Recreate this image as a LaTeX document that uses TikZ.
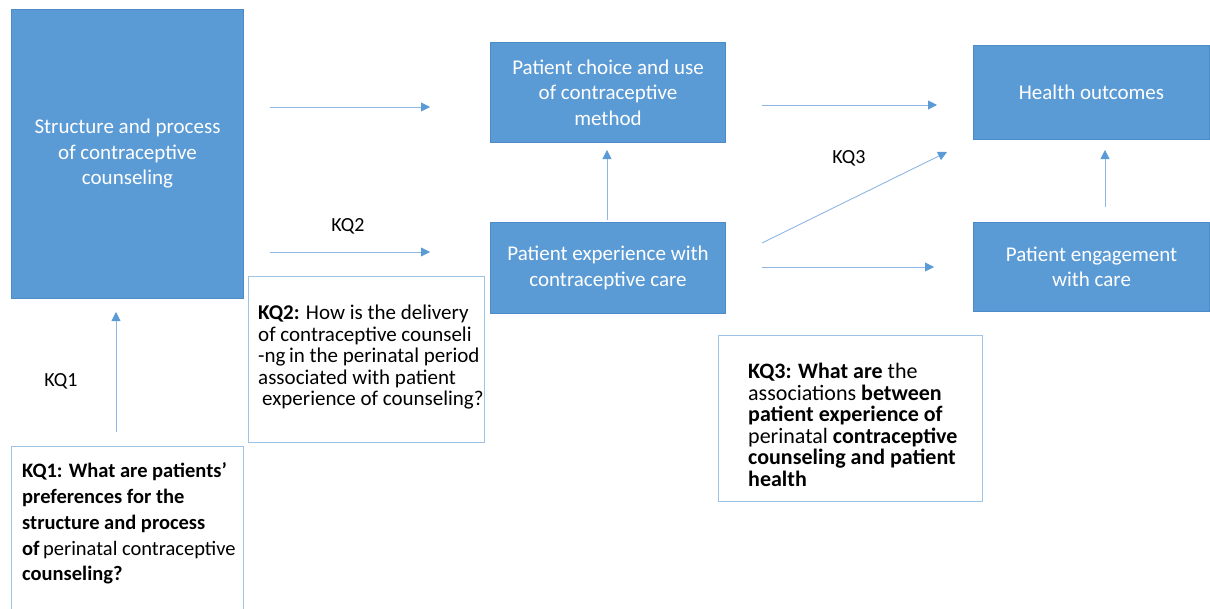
\documentclass[tikz,border=0pt]{standalone}
\usepackage{fontspec}
\setmainfont{Carlito}
\usetikzlibrary{arrows.meta}
\definecolor{boxblue}{HTML}{5B9BD5}
\definecolor{boxedge}{HTML}{4C8BC8}
\definecolor{arrowblue}{HTML}{8DB6E4}
\definecolor{qedge}{HTML}{9DC3E6}
\begin{document}
\begin{tikzpicture}[x=1pt,y=-1pt,
 bluebox/.style={draw=boxedge,fill=boxblue,line width=1pt,text=white,align=center,
   font=\fontsize{21}{25.5}\selectfont,anchor=north west,inner sep=0pt},
 qbox/.style={draw=qedge,line width=1.3pt,anchor=north west,inner sep=0pt},
 qtext/.style={anchor=north west,align=left,inner sep=0pt,font=\fontsize{21}{21.5}\selectfont},
 conn/.style={draw=arrowblue,line width=0.9pt,-{Triangle[length=9pt,width=9pt,color=boxblue]}},
 lbl/.style={font=\fontsize{20}{22}\selectfont,inner sep=0pt}]
\useasboundingbox (0,0) rectangle (1210,608);
\clip (0,0) rectangle (1210,608);
% blue boxes
\node[bluebox,minimum width=232pt,minimum height=289pt] (struct) at (11,9)
  {Structure and process\\of contraceptive\\counseling};
\node[bluebox,minimum width=235pt,minimum height=100pt] (choice) at (490,42)
  {Patient choice and use\\of contraceptive\\method};
\node[bluebox,minimum width=236pt,minimum height=94pt] (health) at (973,45)
  {Health outcomes};
\node[bluebox,minimum width=235pt,minimum height=91pt] (exper) at (490,222)
  {Patient experience with\\contraceptive care};
\node[bluebox,minimum width=236pt,minimum height=89pt] (engage) at (973,222)
  {Patient engagement\\with care};
% question boxes
\node[qbox,minimum width=232pt,minimum height=170pt] (q1box) at (11,446) {};
\node[qtext,font=\fontsize{20.5}{25.8}\selectfont] (q1text) at (22,462.5)
  {\textbf{KQ1: What are patients’}\\
   \textbf{preferences for the}\\
   \textbf{structure and process}\\
   \textbf{of}\,perinatal contraceptive\\
   \textbf{counseling?}};
\node[qbox,minimum width=236pt,minimum height=166pt] (q2box) at (248,276) {};
\node[qtext] (q2text) at (258,305)
  {\textbf{KQ2:} How is the delivery\\
   of contraceptive counseli\\
   -ng\,in the perinatal period\\
   associated with patient\\
   \hspace{4pt}experience of counseling?};
\node[qbox,minimum width=264pt,minimum height=166pt] (q3box) at (718,335) {};
\node[qtext,font=\fontsize{22}{21.5}\selectfont] (q3text) at (748,363)
  {\textbf{KQ3: What are} the\\
   associations \textbf{between}\\
   \textbf{patient experience of}\\
   perinatal \textbf{contraceptive}\\
   \textbf{counseling and patient}\\
   \textbf{health}};
% connector end points
\coordinate (a1s) at (270,107); \coordinate (a1e) at (430,107);
\coordinate (a2s) at (270,252); \coordinate (a2e) at (430,252);
\coordinate (a3s) at (607,220); \coordinate (a3e) at (607,150);
\coordinate (a4s) at (762,105); \coordinate (a4e) at (937,105);
\coordinate (a5s) at (762,267); \coordinate (a5e) at (934,267);
\coordinate (a6s) at (762,243); \coordinate (a6e) at (947,152);
\coordinate (a7s) at (1105,207); \coordinate (a7e) at (1105,150);
\coordinate (a8s) at (116,432); \coordinate (a8e) at (116,312);
\draw[conn] (a1s) -- (a1e);
\draw[conn] (a2s) -- (a2e);
\draw[conn] (a3s) -- (a3e);
\draw[conn] (a4s) -- (a4e);
\draw[conn] (a5s) -- (a5e);
\draw[conn] (a6s) -- (a6e);
\draw[conn] (a7s) -- (a7e);
\draw[conn] (a8s) -- (a8e);
% labels
\node[lbl] (l2) at (348,226) {KQ2};
\node[lbl] (l3) at (849,158) {KQ3};
\node[lbl] (l1) at (61,381) {KQ1};
\end{tikzpicture}
\end{document}
